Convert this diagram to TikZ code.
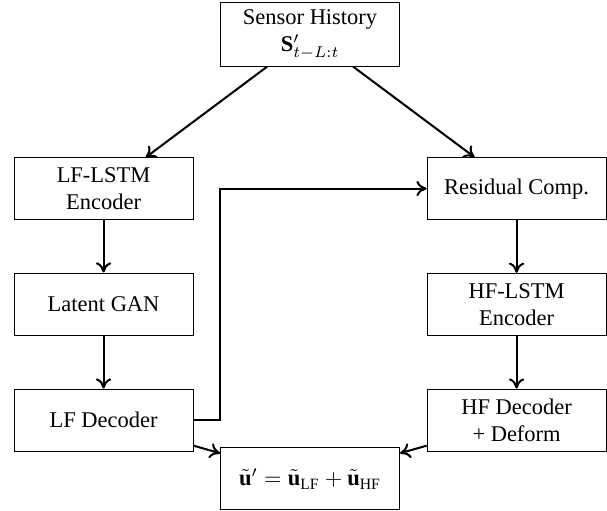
\documentclass[tikz,border=0pt]{standalone}
\usepackage{amsmath,amssymb}
\usepackage{fontspec}
\setmainfont{Liberation Serif}
\usepackage{tikz}
\usetikzlibrary{arrows.meta,positioning}

\begin{document}
\begin{tikzpicture}[
    block/.style={draw,align=center,minimum height=9.7mm,
                  minimum width=28mm,inner sep=3pt},
    arrow/.style={-{To[length=1.6mm,width=2.4mm]},line width=0.9pt}
]
\useasboundingbox (0,0) rectangle (9.494,-7.992);
\node[block] (sensor) at (4.85,-0.54) {Sensor History\\$\mathbf{S}'_{t-L:t}$};
\node[block] (lflstm) at (1.62,-2.955) {LF-LSTM\\Encoder};
\node[block] (resid) at (8.08,-2.95) {Residual Comp.};
\node[block] (latent) at (1.62,-4.755) {Latent GAN};
\node[block] (hflstm) at (8.08,-4.76) {HF-LSTM\\Encoder};
\node[block] (lfdec) at (1.62,-6.57) {LF Decoder};
\node[block] (hfdec) at (8.08,-6.57) {HF Decoder\\+ Deform};
\node[block] (final) at (4.85,-7.49) {$\tilde{\mathbf{u}}' = \tilde{\mathbf{u}}_{\text{LF}} + \tilde{\mathbf{u}}_{\text{HF}}$};

\draw[arrow] (sensor) -- (lflstm);
\draw[arrow] (sensor) -- (resid);
\draw[arrow] (lflstm) -- (latent);
\draw[arrow] (latent) -- (lfdec);
\draw[arrow] (resid) -- (hflstm);
\draw[arrow] (hflstm) -- (hfdec);
\draw[arrow] (lfdec.east) -- ++(0.41,0) |- (resid.west);
\draw[arrow] (lfdec) -- (final);
\draw[arrow] (hfdec) -- (final);
\end{tikzpicture}
\end{document}
